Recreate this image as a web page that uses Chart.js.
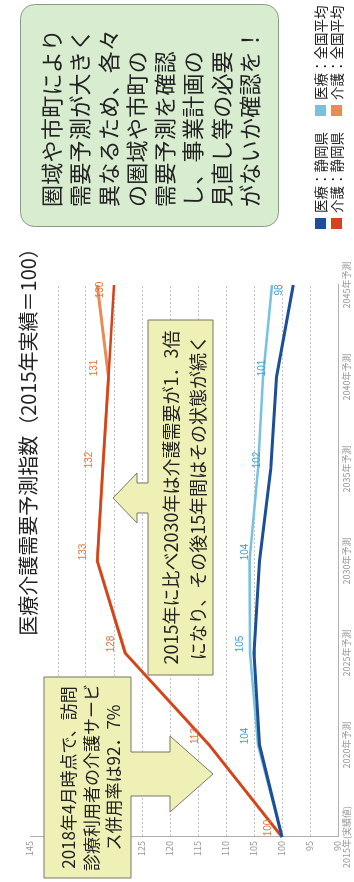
<!DOCTYPE html>
<html lang="ja">
<head>
<meta charset="utf-8">
<title>医療介護需要予測指数</title>
<script src="https://cdn.jsdelivr.net/npm/chart.js@4"></script>
<style>
  html, body { margin: 0; padding: 0; background: #fff; }
  body { width: 354px; height: 882px; overflow: hidden; position: relative; }
  /* the sheet is laid out landscape, then turned a quarter to the left */
  #sheet {
    position: absolute; left: 0; top: 0;
    width: 882px; height: 354px;
    transform-origin: 0 0;
    transform: translate(0, 882px) rotate(-90deg);
    overflow: hidden; background: #fff;
    font-family: "Noto Sans CJK JP", "Noto Sans", sans-serif;
    color: #222;
  }
  #chart { position: absolute; left: 0; top: 0; }
  #shapes { position: absolute; left: 0; top: 0; }
  .txt { position: absolute; white-space: nowrap; }
  .title { left: 195px; top: 16px; width: 500px; text-align: center; font-size: 20px; line-height: 24px; }
  .noteA { left: 4px; top: 57px; width: 201px; text-align: center; font-size: 17px; line-height: 22.5px; }
  .noteB { left: 207px; top: 157px; width: 355px; text-align: center; font-size: 18px; line-height: 27px; }
  .noteC { left: 675px; top: 36px; font-size: 22px; line-height: 28.3px; letter-spacing: 0.3px; }
  .legend { font-size: 13.5px; line-height: 16px; }
  #legend .sw { position: absolute; display: block; width: 11px; height: 11px; }
</style>
</head>
<body>
<div id="sheet">
  <canvas id="chart" width="882" height="354"></canvas>

  <svg id="shapes" width="882" height="354">
    <path d="M4,44 H205 V131 H130 V170 H146 L108,213 L70,170 H86 V131 H4 Z"
          fill="#eef0b6" stroke="#77776a" stroke-width="1"/>
    <path d="M207,148 H369 V137 H359 L384,113 L409,137 H399 V148 H562 V213 H207 Z"
          fill="#eef0b6" stroke="#77776a" stroke-width="1"/>
    <rect x="655.5" y="20.5" width="222" height="258" rx="14" ry="14"
          fill="#d8ecd0" stroke="#8c9a88" stroke-width="1"/>
  </svg>

  <div class="txt title">医療介護需要予測指数（2015年実績＝100）</div>
  <div class="txt noteA">2018年4月時点で、訪問<br>診療利用者の介護サービ<br>ス併用率は92．7%</div>
  <div class="txt noteB">2015年に比べ2030年は介護需要が1．3倍<br>になり、その後15年間はその状態が続く</div>
  <div class="txt noteC">圏域や市町により<br>需要予測が大きく<br>異なるため、各々<br>の圏域や市町の<br>需要予測を確認<br>し、事業計画の<br>見直し等の必要<br>がないか確認を！</div>

  <div id="legend"></div>
</div>

<script>
const years = ['2015年(実績値)', '2020年予測', '2025年予測', '2030年予測', '2035年予測', '2040年予測', '2045年予測'];

const iryoShizuoka = [100, 104, 105, 104, 102, 101, 98];
const iryoZenkoku = [100, 104.3, 105.7, 105.8, 104.3, 103.4, 101.8];
const kaigoShizuoka = [100, 113, 128, 133, 132, 131, 130];
const kaigoZenkoku = [100, 113, 128, 133, 132, 131, 133];

const yMin = 90;
const yMax = 145;
const yStep = 5;

const seriesNames = ['医療：静岡県', '医療：全国平均', '介護：静岡県', '介護：全国平均'];
const seriesColors = ['#1d4e98', '#78c2e0', '#d4441c', '#ea8a56'];

Chart.defaults.font.family = '"Noto Sans CJK JP", "Noto Sans", sans-serif';

// numbers printed next to the Shizuoka lines
const valueLabels = {
  id: 'valueLabels',
  afterDatasetsDraw(chart) {
    const ctx = chart.ctx;
    ctx.save();
    ctx.font = '10px "Liberation Sans", sans-serif';
    ctx.textAlign = 'center';
    ctx.textBaseline = 'middle';
    [[0, '#3f9fd0'], [2, '#e2733e']].forEach(([di, color]) => {
      const meta = chart.getDatasetMeta(di);
      const values = chart.data.datasets[di].data;
      ctx.fillStyle = color;
      meta.data.forEach((pt, i) => {
        if (di === 0 && i === 0) return;
        const dx = i === values.length - 1 ? -5 : 9;
        ctx.fillText(values[i], pt.x + dx, pt.y - 14);
      });
    });
    ctx.restore();
  }
};

const ctx = document.getElementById('chart').getContext('2d');
const chart = new Chart(ctx, {
  type: 'line',
  data: {
    labels: years,
    datasets: [
      { label: seriesNames[0], data: iryoShizuoka, borderColor: seriesColors[0], borderWidth: 3 },
      { label: seriesNames[1], data: iryoZenkoku, borderColor: seriesColors[1], borderWidth: 2.5 },
      { label: seriesNames[2], data: kaigoShizuoka, borderColor: seriesColors[2], borderWidth: 2.5 },
      { label: seriesNames[3], data: kaigoZenkoku, borderColor: seriesColors[3], borderWidth: 3 }
    ]
  },
  options: {
    responsive: false,
    animation: false,
    events: [],
    elements: {
      point: { radius: 0 },
      line: { tension: 0, fill: false }
    },
    layout: { padding: { top: 30, right: 285, bottom: 0, left: 0 } },
    plugins: {
      legend: { display: false },
      tooltip: { enabled: false }
    },
    scales: {
      x: {
        grid: { display: false, drawTicks: false },
        border: { display: true, color: '#b0b0b0', width: 1 },
        ticks: { color: '#999', font: { size: 9 }, padding: 3, maxRotation: 0, autoSkip: false },
        afterFit(scale) { scale.height = 16; }
      },
      y: {
        min: yMin,
        max: yMax,
        grid: {
          drawTicks: false,
          color: c => (c.tick && c.tick.value === yMax) ? 'rgba(0,0,0,0)' : '#c4c4c4'
        },
        border: { display: true, color: '#b0b0b0', width: 1, dash: [2, 2] },
        ticks: { stepSize: yStep, color: '#999', font: { size: 9 }, padding: 4 },
        afterFit(scale) { scale.width = 45; }
      }
    }
  },
  plugins: [valueLabels]
});

// legend rows under the green note
const legendBox = document.getElementById('legend');
const legendSpots = [
  { i: 0, x: 653, y: 312 }, { i: 1, x: 766, y: 312 },
  { i: 2, x: 653, y: 328 }, { i: 3, x: 766, y: 328 }
];
legendSpots.forEach(s => {
  const sw = document.createElement('span');
  sw.className = 'sw';
  sw.style.left = s.x + 'px';
  sw.style.top = (s.y + 2.5) + 'px';
  sw.style.background = seriesColors[s.i];
  legendBox.appendChild(sw);
  const t = document.createElement('div');
  t.className = 'txt legend';
  t.style.left = (s.x + 16) + 'px';
  t.style.top = s.y + 'px';
  t.textContent = seriesNames[s.i];
  legendBox.appendChild(t);
});
</script>
</body>
</html>
